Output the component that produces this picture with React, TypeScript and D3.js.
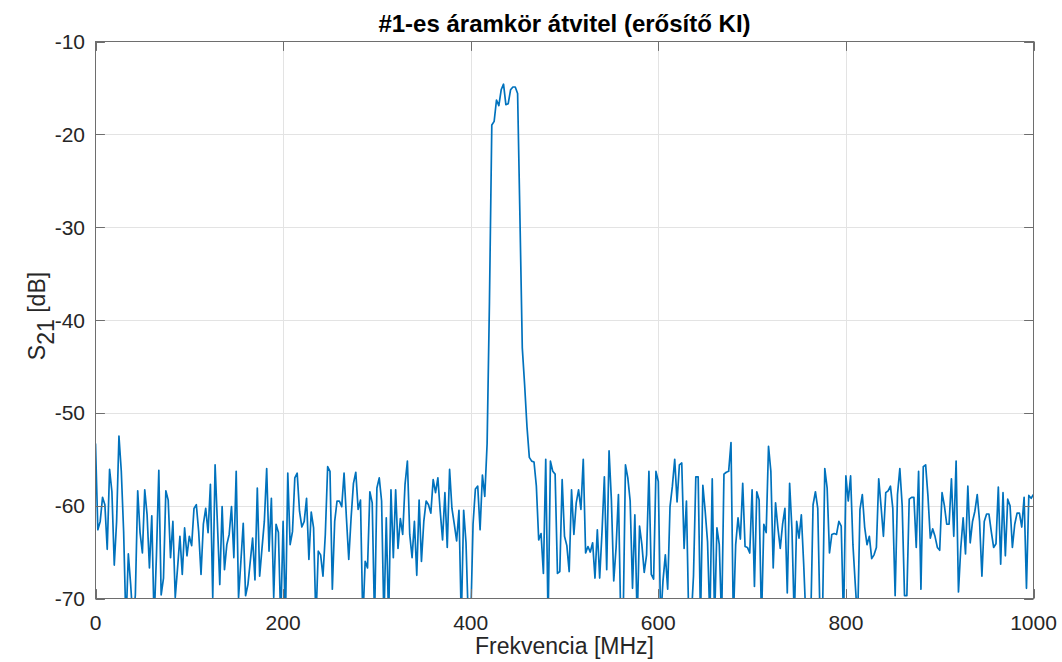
import React from "react";
import * as d3 from "d3";

const freqStart = 0;
const freqStop = 1000;
const xTicks = [0, 200, 400, 600, 800, 1000];
const yTicks = [-10, -20, -30, -40, -50, -60, -70];
const titleText = "#1-es áramkör átvitel (erősítő KI)";
const xLabel = "Frekvencia [MHz]";

// S21 [dB], 401 sweep points from 0 to 1000 MHz
const s21: number[] = [
  -53.3, -62.6, -61.7, -59.1, -59.9, -64.7, -56.1, -58.5, -66.4, -61.7,
  -52.5, -56.3, -62.8, -73, -65.2, -68.5, -72.5, -69.6, -58.4, -62.9,
  -65.1, -58.3, -61, -66.7, -61.1, -72.5, -65.3, -56.2, -69.6, -67.8,
  -58.4, -59.4, -65.6, -61.7, -69.9, -66.7, -63.3, -67.4, -62.4, -65.4,
  -63.3, -64.3, -60.3, -59.9, -62.8, -67.4, -62, -60.3, -62.9, -57.7,
  -69.9, -55.6, -62, -68.5, -60.1, -66.9, -64.2, -63.1, -60.1, -65.6,
  -56.3, -69.9, -66, -61.9, -69.7, -68.5, -66, -63.5, -68, -58.1,
  -67.6, -64.6, -61.7, -56, -64.9, -59.2, -69.9, -62, -62.9, -72.5,
  -61.7, -72.5, -56.5, -64.2, -62.8, -57, -56.5, -60.6, -62.3, -61.7,
  -59.2, -65.8, -60.7, -62.4, -72.5, -64.9, -65.3, -67.6, -63.1, -55.8,
  -56.3, -69, -61.7, -59.5, -59.5, -60.1, -56.5, -61.3, -65.8, -61.3,
  -57.6, -56.4, -60.4, -59.4, -72.5, -66, -66.7, -58.5, -59.7, -72.5,
  -58.1, -57, -59.5, -72.5, -61.3, -72.5, -58.3, -65.6, -58.3, -64.6,
  -61.4, -63.1, -57.7, -55.2, -63.1, -65.6, -61.7, -67.5, -59.4, -66,
  -61.7, -59.5, -59.9, -60.8, -57.2, -58.6, -57, -60.6, -63.7, -58.6,
  -64.5, -56.1, -60.3, -62, -63.8, -60.5, -72.5, -60.5, -64, -72.5,
  -72.5, -62, -58.2, -57.9, -62.6, -56.7, -59, -53.3, -38, -19,
  -18.6, -16.3, -16.9, -15.2, -14.6, -16.8, -16.7, -15.2, -14.9, -14.9,
  -15.6, -29, -43, -47, -51.5, -54.8, -55.2, -55.3, -57.9, -63.7,
  -63, -67.3, -55, -72.5, -55.2, -56.3, -56.6, -67.3, -67.1, -57.2,
  -63.3, -64.3, -67.1, -58.3, -63.1, -59.7, -58.3, -60.4, -55, -65.1,
  -64.4, -65, -64, -67.8, -62.6, -67.8, -62.8, -56.9, -66.9, -54.1,
  -59.4, -68.1, -64.5, -58.8, -72.5, -72.5, -55.6, -57, -59.5, -68.9,
  -61, -72.5, -62.2, -64.2, -67.2, -65.3, -56.3, -67.4, -67.9, -56.3,
  -57.4, -72.5, -68.1, -65.3, -69, -60.1, -57.9, -55, -59.6, -55.6,
  -55.4, -64.6, -59.5, -72.5, -72.5, -67.6, -56.9, -56.9, -72.5, -57.8,
  -60.6, -63.9, -72.5, -57.1, -72.5, -62.4, -64.2, -72.5, -56.6, -56.4,
  -56.3, -53.2, -72.5, -64.2, -61.3, -63.6, -57.6, -64.4, -64.5, -65.1,
  -58.3, -68.7, -58.5, -59.4, -72.5, -62, -62.9, -53.6, -56.3, -66.7,
  -59.7, -62.4, -64.6, -62, -60.3, -69.4, -57.6, -62.6, -72.5, -61.7,
  -63.5, -61, -66.3, -72.5, -74, -72.5, -59.9, -58.5, -60.3, -72.5,
  -72.5, -56, -58.1, -65.1, -63.1, -63, -63.1, -61.7, -62.2, -72.5,
  -56.8, -59.5, -56.8, -64.2, -68.5, -72.5, -60.4, -58.8, -62.3, -64.2,
  -63.3, -65.7, -65.3, -64.5, -57.1, -60.1, -63.3, -58.6, -58.4, -57.9,
  -60.3, -69.7, -58.8, -56, -60, -69.7, -69.7, -59.3, -59.1, -59.1,
  -64.5, -56.3, -69, -55.8, -55.6, -59, -63.5, -62.5, -63.3, -64.5,
  -64.8, -58.6, -60, -62, -62, -57.1, -63.3, -55.2, -69.3, -64.5,
  -61.3, -65.2, -57.9, -64, -61.7, -60.6, -58.8, -61.7, -67.6, -61.7,
  -60.9, -60.9, -62.8, -64.5, -64.1, -58, -66.3, -58.6, -65.4, -59.3,
  -60, -64.5, -62, -60.8, -60.8, -62.3, -59.1, -68.9, -58.9, -59.2,
  -58.8,
];

const W = 1062;
const H = 662;
const L = 95.5;
const R = 1033.5;
const T = 41.5;
const B = 598.5;
const FONT = "'Liberation Sans', Arial, Helvetica, sans-serif";
const TXT = "#262626";

export default function App() {
  const n = s21.length;
  const freqs = s21.map((_, i) => freqStart + ((freqStop - freqStart) * i) / (n - 1));
  const x = d3.scaleLinear().domain([0, 1000]).range([L, R]);
  const y = d3.scaleLinear().domain([-70, -10]).range([B, T]);
  const line = d3
    .line<number>()
    .x((_, i) => x(freqs[i]))
    .y((d) => y(d));
  const path = line(s21) || "";
  const tick = 9.4;

  return (
    <svg
      width={W}
      height={H}
      style={{ position: "absolute", left: 0, top: 0, background: "#fff" }}
      fontFamily={FONT}
    >
      <defs>
        <clipPath id="plotclip">
          <rect x={L} y={T} width={R - L} height={B - T} />
        </clipPath>
      </defs>
      <rect x={0} y={0} width={W} height={H} fill="#fff" />
      {/* grid */}
      <g stroke="#e3e3e3" strokeWidth={1}>
        {xTicks.slice(1, -1).map((t) => (
          <line key={"gx" + t} x1={Math.round(x(t)) + 0.5} x2={Math.round(x(t)) + 0.5} y1={T} y2={B} />
        ))}
        {yTicks.slice(1, -1).map((t) => (
          <line key={"gy" + t} x1={L} x2={R} y1={Math.round(y(t)) + 0.5} y2={Math.round(y(t)) + 0.5} />
        ))}
      </g>
      {/* data */}
      <path
        d={path}
        fill="none"
        stroke="#0072BD"
        strokeWidth={1.7}
        strokeLinejoin="round"
        clipPath="url(#plotclip)"
      />
      {/* box */}
      <rect x={L} y={T} width={R - L} height={B - T} fill="none" stroke="#6e6e6e" strokeWidth={1} />
      {/* ticks */}
      <g stroke="#6e6e6e" strokeWidth={1}>
        {xTicks.map((t) => (
          <g key={"tx" + t}>
            <line x1={Math.round(x(t)) + 0.5} x2={Math.round(x(t)) + 0.5} y1={B} y2={B - tick} />
            <line x1={Math.round(x(t)) + 0.5} x2={Math.round(x(t)) + 0.5} y1={T} y2={T + tick} />
          </g>
        ))}
        {yTicks.map((t) => (
          <g key={"ty" + t}>
            <line x1={L} x2={L + tick} y1={Math.round(y(t)) + 0.5} y2={Math.round(y(t)) + 0.5} />
            <line x1={R} x2={R - tick} y1={Math.round(y(t)) + 0.5} y2={Math.round(y(t)) + 0.5} />
          </g>
        ))}
      </g>
      {/* tick labels */}
      <g fill={TXT} fontSize={21}>
        {xTicks.map((t) => (
          <text key={"lx" + t} x={x(t)} y={630} textAnchor="middle">
            {t}
          </text>
        ))}
        {yTicks.map((t) => (
          <text key={"ly" + t} x={85} y={y(t) + 7.5} textAnchor="end">
            {t}
          </text>
        ))}
      </g>
      {/* x label */}
      <text x={(L + R) / 2} y={654} textAnchor="middle" fill={TXT} fontSize={23}>
        {xLabel}
      </text>
      {/* y label */}
      <text
        transform={`translate(45, ${(T + B) / 2 - 4}) rotate(-90)`}
        textAnchor="middle"
        fill={TXT}
        fontSize={23}
      >
        S<tspan fontSize={23} dy={9}>21</tspan>
        <tspan dy={-9}> [dB]</tspan>
      </text>
      {/* title */}
      <text x={(L + R) / 2} y={32} textAnchor="middle" fill="#000" fontSize={24} fontWeight="bold">
        {titleText}
      </text>
    </svg>
  );
}
